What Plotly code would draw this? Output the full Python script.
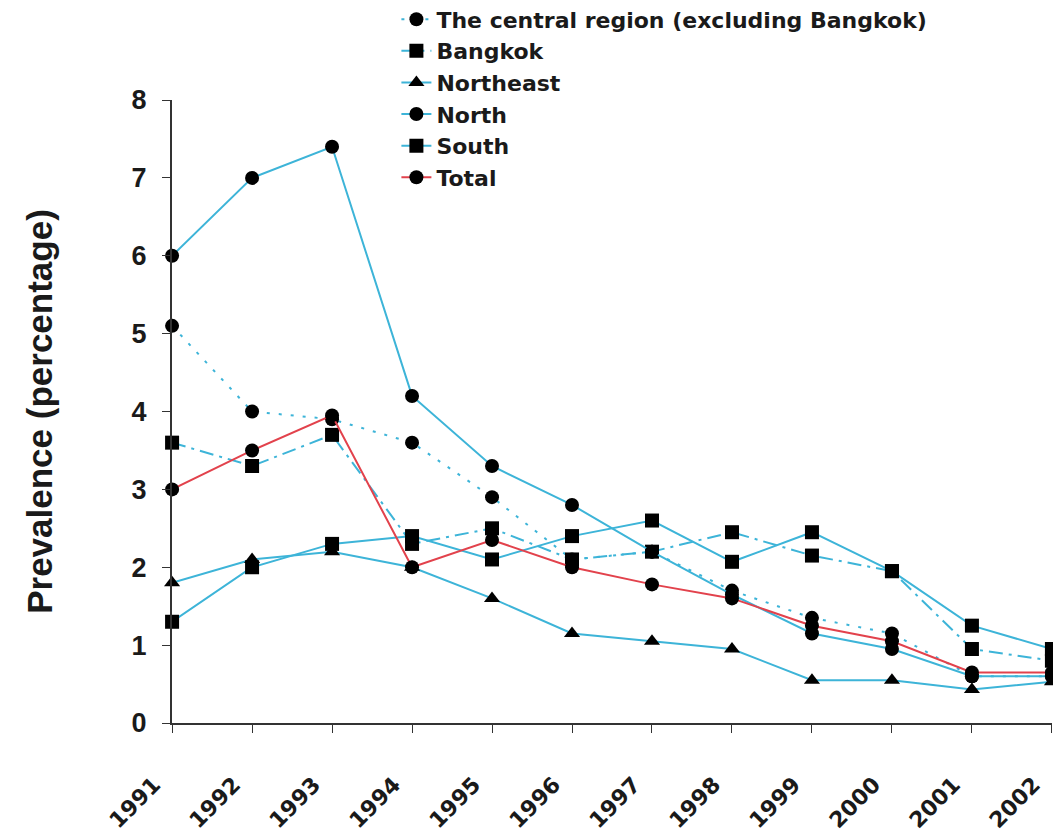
import plotly.graph_objects as go

years = [1991, 1992, 1993, 1994, 1995, 1996, 1997, 1998, 1999, 2000, 2001, 2002]
year_labels = [str(y) for y in years]

central = [5.1, 4.0, 3.9, 3.6, 2.9, 2.1, 2.2, 1.7, 1.35, 1.15, 0.6, 0.6]
bangkok = [3.6, 3.3, 3.7, 2.3, 2.5, 2.1, 2.2, 2.45, 2.15, 1.95, 0.95, 0.8]
northeast = [1.8, 2.1, 2.2, 2.0, 1.6, 1.15, 1.05, 0.95, 0.55, 0.55, 0.43, 0.53]
north = [6.0, 7.0, 7.4, 4.2, 3.3, 2.8, 2.2, 1.65, 1.15, 0.95, 0.6, 0.6]
south = [1.3, 2.0, 2.3, 2.4, 2.1, 2.4, 2.6, 2.07, 2.45, 1.95, 1.25, 0.95]
total = [3.0, 3.5, 3.95, 2.0, 2.35, 2.0, 1.78, 1.6, 1.25, 1.05, 0.65, 0.65]

names = ["The central region (excluding Bangkok)", "Bangkok", "Northeast",
         "North", "South", "Total"]

BLUE = "#3db4d8"
RED = "#e2424c"

styles = [
    (central, BLUE, "3px,9px", "circle"),
    (bangkok, BLUE, "14px,6px,3px,6px", "square"),
    (northeast, BLUE, "solid", "triangle-up"),
    (north, BLUE, "solid", "circle"),
    (south, BLUE, "solid", "square"),
    (total, RED, "solid", "circle"),
]

fig = go.Figure()
for name, (vals, col, dash, sym) in zip(names, styles):
    fig.add_trace(go.Scatter(
        x=years, y=vals, name=name, mode="lines+markers",
        line=dict(color=col, width=2, dash=dash),
        marker=dict(symbol=sym, size=14, color="black"),
        cliponaxis=False,
    ))

fig.update_layout(
    width=1053, height=825,
    margin=dict(l=164, r=9, t=92, b=110, autoexpand=False),
    paper_bgcolor="white", plot_bgcolor="white",
    font=dict(family="DejaVu Sans", size=20, color="#1a1a1a"),
    showlegend=True,
    legend=dict(
        x=0.255, y=1.163, xanchor="left", yanchor="top",
        bgcolor="rgba(0,0,0,0)", borderwidth=0,
        font=dict(size=22, weight="bold", family="DejaVu Sans"),
        tracegroupgap=0, itemwidth=30,
    ),
    xaxis=dict(
        range=[1990.999, 2002.001], tickvals=years, ticktext=year_labels,
        tickangle=-45, showgrid=False, zeroline=False,
        showline=True, linecolor="#333", linewidth=2,
        ticks="outside", ticklen=8, tickcolor="#333",
        ticklabelstandoff=30, ticklabelshift=-18, ticklabeloverflow="allow",
        automargin=False,
        tickfont=dict(size=22, weight="bold", family="DejaVu Sans"),
    ),
    yaxis=dict(
        range=[0, 8], tickvals=[0, 1, 2, 3, 4, 5, 6, 7, 8],
        showgrid=False, zeroline=False,
        showline=True, linecolor="#333", linewidth=2,
        ticks="outside", ticklen=8, tickcolor="#333",
        ticklabelstandoff=10, automargin=False,
        tickfont=dict(size=27, weight="bold", family="Liberation Sans"),
        title=dict(text="Prevalence (percentage)",
                   font=dict(size=35, weight="bold", family="Liberation Sans"),
                   standoff=68),
    ),
)

fig.write_html("out.html")
